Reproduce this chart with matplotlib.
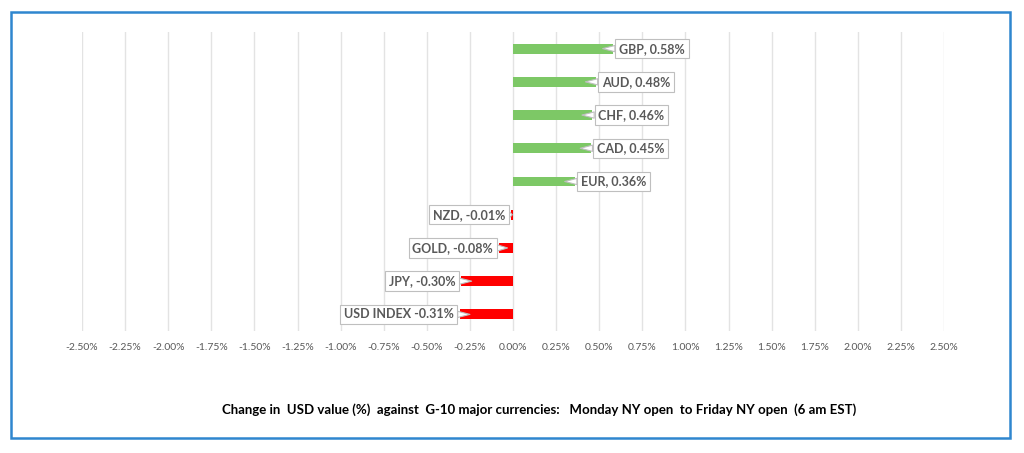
import matplotlib
matplotlib.use('Agg')
import matplotlib.pyplot as plt
from matplotlib.patches import Rectangle
import numpy

# data, top to bottom as in the chart
names = ['GBP', 'AUD', 'CHF', 'CAD', 'EUR', 'NZD', 'GOLD', 'JPY', 'USD INDEX']
changes = [0.58, 0.48, 0.46, 0.45, 0.36, -0.01, -0.08, -0.30, -0.31]
labels = ['GBP, 0.58%', 'AUD, 0.48%', 'CHF, 0.46%', 'CAD, 0.45%', 'EUR, 0.36%',
          'NZD, -0.01%', 'GOLD, -0.08%', 'JPY, -0.30%', 'USD INDEX -0.31%']
xticks = numpy.arange(-2.5, 2.51, 0.25)
title = 'Change in  USD value (%)  against  G-10 major currencies:   Monday NY open  to Friday NY open  (6 am EST)'

plt.rcParams['font.family'] = ['Lato', 'DejaVu Sans']

fig = plt.figure(figsize=(10.24, 4.53), dpi=100)
W, H = 1024., 453.

# blue frame round the chart
fig.patches.append(Rectangle((11/W, 1-438/H), 999/W, 426/H, transform=fig.transFigure,
                             fill=False, ec='#2f86cf', lw=1.8))

ax = fig.add_axes([82/W, 1-331/H, 862/W, 299/H])
ypos = numpy.arange(len(names))
colors = ['#7dc866' if v > 0 else '#ff0000' for v in changes]
ax.barh(ypos, changes, height=0.3, color=colors, zorder=2)
ax.set_ylim(len(names)-0.5, -0.5)
ax.set_xlim(-2.5, 2.5)
ax.set_xticks(xticks)
ax.set_xticklabels(['%.2f%%' % t for t in xticks], color='#595959', fontsize=7.5)
ax.tick_params(axis='x', length=0, pad=9)
ax.set_yticks([])
for s in ax.spines.values():
    s.set_visible(False)
ax.grid(axis='x', color='#e3e3e3', lw=1, zorder=0)

for i, (v, lab) in enumerate(zip(changes, labels)):
    sign = 1 if v >= 0 else -1
    tip = v - sign*min(0.06, abs(v)*0.6)
    ax.annotate(lab, xy=(tip, i), xytext=(v + sign*0.035, i),
                ha='left' if sign > 0 else 'right', va='center',
                fontsize=9, fontweight='bold', color='#595959', zorder=5,
                bbox=dict(boxstyle='square,pad=0.3', fc='white', ec='#bfbfbf', lw=0.8),
                arrowprops=dict(arrowstyle='wedge,tail_width=0.5', fc='white', ec='#bfbfbf',
                                lw=0.8, shrinkA=0, shrinkB=0))

fig.text(539/W, 1-410/H, title, ha='center', va='center', fontsize=9.5,
         fontweight='bold', color='black')

fig.savefig('out.png', dpi=100)
